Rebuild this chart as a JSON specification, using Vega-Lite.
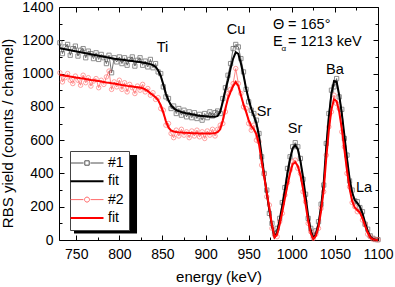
{
  "$schema": "https://vega.github.io/schema/vega-lite/v6.json",
  "width": 319,
  "height": 233,
  "autosize": {"type": "none"},
  "padding": {"left": 59, "top": 7, "right": 17, "bottom": 47},
  "config": {
    "view": {"stroke": "#000", "strokeWidth": 1},
    "font": "Liberation Sans",
    "axis": {"domain": false, "grid": false, "tickColor": "#000", "tickWidth": 1, "labelColor": "#000", "labelFont": "Liberation Sans", "titleFont": "Liberation Sans", "labelFlush": false, "labelOverlap": false, "labelFontSize": 14, "format": "d"}
  },
  "datasets": {
    "spec": [
      {"E":731,"s1":1185,"f1":1152,"s2":1005,"f2":992},
      {"E":734,"s1":1120,"f1":1149,"s2":950,"f2":990},
      {"E":737,"s1":1160,"f1":1146,"s2":975,"f2":987},
      {"E":740,"s1":1175,"f1":1143,"s2":1000,"f2":985},
      {"E":743,"s1":1110,"f1":1140,"s2":960,"f2":982},
      {"E":746,"s1":1150,"f1":1137,"s2":940,"f2":980},
      {"E":749,"s1":1165,"f1":1134,"s2":985,"f2":977},
      {"E":752,"s1":1105,"f1":1131,"s2":960,"f2":975},
      {"E":755,"s1":1140,"f1":1128,"s2":930,"f2":972},
      {"E":758,"s1":1150,"f1":1125,"s2":990,"f2":970},
      {"E":761,"s1":1095,"f1":1122,"s2":945,"f2":967},
      {"E":764,"s1":1135,"f1":1119,"s2":975,"f2":965},
      {"E":767,"s1":1120,"f1":1116,"s2":925,"f2":962},
      {"E":770,"s1":1090,"f1":1113,"s2":955,"f2":960},
      {"E":773,"s1":1125,"f1":1110,"s2":970,"f2":957},
      {"E":776,"s1":1085,"f1":1107,"s2":915,"f2":955},
      {"E":779,"s1":1115,"f1":1104,"s2":960,"f2":952},
      {"E":782,"s1":1095,"f1":1101,"s2":935,"f2":950},
      {"E":785,"s1":1060,"f1":1098,"s2":980,"f2":947},
      {"E":788,"s1":1110,"f1":1095,"s2":1015,"f2":945},
      {"E":791,"s1":1005,"f1":1092,"s2":905,"f2":942},
      {"E":794,"s1":1095,"f1":1089,"s2":950,"f2":940},
      {"E":797,"s1":1070,"f1":1087,"s2":920,"f2":937},
      {"E":800,"s1":1100,"f1":1085,"s2":960,"f2":934},
      {"E":803,"s1":1060,"f1":1083,"s2":905,"f2":931},
      {"E":806,"s1":1095,"f1":1081,"s2":945,"f2":929},
      {"E":809,"s1":1050,"f1":1079,"s2":890,"f2":926},
      {"E":812,"s1":1085,"f1":1077,"s2":935,"f2":924},
      {"E":815,"s1":1100,"f1":1075,"s2":915,"f2":922},
      {"E":818,"s1":1045,"f1":1073,"s2":880,"f2":920},
      {"E":821,"s1":1080,"f1":1071,"s2":925,"f2":918},
      {"E":824,"s1":1095,"f1":1069,"s2":900,"f2":916},
      {"E":827,"s1":1050,"f1":1067,"s2":935,"f2":912},
      {"E":830,"s1":1075,"f1":1064,"s2":890,"f2":905},
      {"E":833,"s1":1040,"f1":1061,"s2":910,"f2":895},
      {"E":836,"s1":1085,"f1":1057,"s2":870,"f2":882},
      {"E":839,"s1":1035,"f1":1051,"s2":885,"f2":870},
      {"E":842,"s1":1060,"f1":1040,"s2":845,"f2":858},
      {"E":845,"s1":1010,"f1":1020,"s2":855,"f2":840},
      {"E":848,"s1":1000,"f1":985,"s2":790,"f2":810},
      {"E":851,"s1":920,"f1":935,"s2":780,"f2":765},
      {"E":854,"s1":860,"f1":880,"s2":690,"f2":715},
      {"E":857,"s1":850,"f1":838,"s2":700,"f2":675},
      {"E":860,"s1":790,"f1":810,"s2":640,"f2":658},
      {"E":863,"s1":805,"f1":792,"s2":615,"f2":652},
      {"E":866,"s1":760,"f1":781,"s2":660,"f2":649},
      {"E":869,"s1":790,"f1":774,"s2":625,"f2":647},
      {"E":872,"s1":750,"f1":769,"s2":665,"f2":646},
      {"E":875,"s1":780,"f1":765,"s2":630,"f2":645},
      {"E":878,"s1":740,"f1":761,"s2":650,"f2":644},
      {"E":881,"s1":770,"f1":758,"s2":615,"f2":643},
      {"E":884,"s1":735,"f1":755,"s2":655,"f2":642},
      {"E":887,"s1":765,"f1":752,"s2":625,"f2":641},
      {"E":890,"s1":730,"f1":749,"s2":660,"f2":641},
      {"E":893,"s1":755,"f1":747,"s2":620,"f2":640},
      {"E":896,"s1":720,"f1":745,"s2":650,"f2":640},
      {"E":899,"s1":760,"f1":743,"s2":610,"f2":640},
      {"E":902,"s1":735,"f1":742,"s2":655,"f2":640},
      {"E":905,"s1":770,"f1":741,"s2":630,"f2":640},
      {"E":908,"s1":745,"f1":740,"s2":665,"f2":641},
      {"E":911,"s1":765,"f1":740,"s2":625,"f2":643},
      {"E":914,"s1":775,"f1":745,"s2":665,"f2":648},
      {"E":917,"s1":760,"f1":770,"s2":690,"f2":665},
      {"E":920,"s1":850,"f1":830,"s2":700,"f2":720},
      {"E":923,"s1":915,"f1":900,"s2":770,"f2":790},
      {"E":926,"s1":990,"f1":960,"s2":880,"f2":850},
      {"E":929,"s1":1060,"f1":1030,"s2":905,"f2":890},
      {"E":932,"s1":1150,"f1":1090,"s2":940,"f2":925},
      {"E":935,"s1":1175,"f1":1128,"s2":1030,"f2":950},
      {"E":938,"s1":1160,"f1":1118,"s2":940,"f2":925},
      {"E":941,"s1":1090,"f1":1060,"s2":880,"f2":870},
      {"E":944,"s1":1010,"f1":990,"s2":800,"f2":815},
      {"E":947,"s1":905,"f1":910,"s2":790,"f2":770},
      {"E":950,"s1":830,"f1":845,"s2":700,"f2":720},
      {"E":953,"s1":780,"f1":790,"s2":660,"f2":685},
      {"E":956,"s1":760,"f1":745,"s2":690,"f2":665},
      {"E":959,"s1":720,"f1":700,"s2":600,"f2":635},
      {"E":962,"s1":640,"f1":625,"s2":590,"f2":575},
      {"E":965,"s1":500,"f1":510,"s2":450,"f2":475},
      {"E":968,"s1":400,"f1":390,"s2":395,"f2":380},
      {"E":971,"s1":300,"f1":280,"s2":260,"f2":285},
      {"E":974,"s1":160,"f1":180,"s2":210,"f2":190},
      {"E":977,"s1":100,"f1":85,"s2":70,"f2":90},
      {"E":980,"s1":40,"f1":20,"s2":30,"f2":15},
      {"E":983,"s1":70,"f1":45,"s2":20,"f2":35},
      {"E":986,"s1":130,"f1":120,"s2":110,"f2":95},
      {"E":989,"s1":225,"f1":205,"s2":160,"f2":170},
      {"E":992,"s1":315,"f1":300,"s2":270,"f2":250},
      {"E":995,"s1":430,"f1":400,"s2":345,"f2":330},
      {"E":998,"s1":500,"f1":485,"s2":420,"f2":400},
      {"E":1001,"s1":560,"f1":550,"s2":470,"f2":455},
      {"E":1004,"s1":585,"f1":570,"s2":480,"f2":468},
      {"E":1007,"s1":560,"f1":545,"s2":430,"f2":445},
      {"E":1010,"s1":490,"f1":475,"s2":400,"f2":390},
      {"E":1013,"s1":365,"f1":380,"s2":290,"f2":310},
      {"E":1016,"s1":275,"f1":260,"s2":230,"f2":215},
      {"E":1019,"s1":130,"f1":145,"s2":100,"f2":115},
      {"E":1022,"s1":70,"f1":55,"s2":50,"f2":40},
      {"E":1025,"s1":25,"f1":10,"s2":10,"f2":5},
      {"E":1028,"s1":55,"f1":35,"s2":35,"f2":25},
      {"E":1031,"s1":110,"f1":95,"s2":70,"f2":80},
      {"E":1034,"s1":215,"f1":200,"s2":190,"f2":175},
      {"E":1037,"s1":330,"f1":340,"s2":290,"f2":300},
      {"E":1040,"s1":580,"f1":560,"s2":510,"f2":495},
      {"E":1043,"s1":760,"f1":740,"s2":680,"f2":660},
      {"E":1046,"s1":900,"f1":880,"s2":770,"f2":785},
      {"E":1049,"s1":920,"f1":955,"s2":870,"f2":845},
      {"E":1052,"s1":970,"f1":950,"s2":820,"f2":835},
      {"E":1055,"s1":860,"f1":870,"s2":790,"f2":770},
      {"E":1058,"s1":785,"f1":760,"s2":650,"f2":670},
      {"E":1061,"s1":610,"f1":630,"s2":560,"f2":545},
      {"E":1064,"s1":510,"f1":490,"s2":400,"f2":420},
      {"E":1067,"s1":355,"f1":370,"s2":320,"f2":310},
      {"E":1070,"s1":300,"f1":285,"s2":225,"f2":235},
      {"E":1073,"s1":235,"f1":240,"s2":200,"f2":195},
      {"E":1076,"s1":230,"f1":222,"s2":170,"f2":180},
      {"E":1079,"s1":195,"f1":200,"s2":175,"f2":165},
      {"E":1082,"s1":170,"f1":160,"s2":120,"f2":130},
      {"E":1085,"s1":95,"f1":105,"s2":95,"f2":85},
      {"E":1088,"s1":65,"f1":55,"s2":35,"f2":45},
      {"E":1091,"s1":25,"f1":20,"s2":20,"f2":15},
      {"E":1094,"s1":10,"f1":6,"s2":5,"f2":4},
      {"E":1097,"s1":3,"f1":2,"s2":3,"f2":1},
      {"E":1100,"s1":2,"f1":1,"s2":1,"f2":0}
    ],
    "elements": [
      {"E":850,"v":1154,"t":"Ti"},
      {"E":935.3,"v":1259,"t":"Cu"},
      {"E":967.8,"v":769,"t":"Sr"},
      {"E":1003.7,"v":667,"t":"Sr"},
      {"E":1050,"v":1022,"t":"Ba"},
      {"E":1083.7,"v":312,"t":"La"}
    ],
    "info": [
      {"E":978.2,"v":1292,"t":"Θ"},
      {"E":995.6,"v":1292,"t":"= 165°"},
      {"E":978.2,"v":1190,"t":"E"},
      {"E":995.6,"v":1190,"t":"= 1213 keV"}
    ],
    "sub": [
      {"E":988.2,"v":1146,"t":"α"}
    ]
  },
  "layer": [
    {
      "data": {"values": [{}]},
      "mark": {"type": "rect", "color": "#000"},
      "encoding": {
        "x": {"datum": 747.4, "type": "quantitative", "axis": null, "scale": {"domain": [730, 1100], "nice": false, "zero": false}},
        "x2": {"datum": 820.5},
        "y": {"datum": 510.8, "type": "quantitative", "axis": null, "scale": {"domain": [0, 1400], "nice": false}},
        "y2": {"datum": 39}
      }
    },
    {
      "data": {"name": "spec"},
      "transform": [{"fold": ["s1", "s2"], "as": ["series", "v"]}],
      "mark": {"type": "line", "strokeWidth": 0.8},
      "encoding": {
        "x": {"field": "E", "type": "quantitative", "scale": {"domain": [730, 1100], "nice": false, "zero": false},
              "axis": {"orient": "bottom", "values": [750, 800, 850, 900, 950, 1000, 1050, 1100], "ticks": false, "labelPadding": 7, "title": "energy (keV)", "titleFontSize": 15, "titleFontWeight": "normal", "titleColor": "#000", "titleY": 29}},
        "y": {"field": "v", "type": "quantitative", "scale": {"domain": [0, 1400], "nice": false},
              "axis": {"orient": "left", "values": [0, 200, 400, 600, 800, 1000, 1200, 1400], "ticks": false, "labelPadding": 6, "title": "RBS yield (counts / channel)", "titleFontSize": 15, "titleFontWeight": "normal", "titleColor": "#000", "titleX": -44, "titleY": 126}},
        "color": {"field": "series", "type": "nominal",
                  "scale": {"domain": ["s1", "f1", "s2", "f2"], "range": ["#505050", "#000000", "#ff6a6a", "#ff0000"]},
                  "legend": {"orient": "none", "legendX": 11, "legendY": 144, "title": null, "direction": "vertical",
                             "labelExpr": "datum.value == 's1' ? '#1' : datum.value == 's2' ? '#2' : 'fit'",
                             "symbolType": {"expr": "datum.value == 's1' ? 'M-8.25,0H-1.7M1.7,0H8.25M-1.1,-1.1H1.1V1.1H-1.1Z' : datum.value == 's2' ? 'M-8.25,0H-1.8M1.8,0H8.25M-1.25,0A1.25,1.25 0 1,1 1.25,0A1.25,1.25 0 1,1 -1.25,0Z' : 'M-8.25,0H8.25'"},
                             "symbolStrokeWidth": {"expr": "datum.value == 's1' || datum.value == 's2' ? 1 : 2"},
                             "symbolSize": 16, "symbolFillColor": "transparent", "symbolOffset": 5, "rowPadding": 4.3,
                             "labelFontSize": 14, "labelColor": "#000", "labelFont": "Liberation Sans", "labelOffset": 14,
                             "padding": 5, "strokeColor": "#444", "fillColor": "#fff"}}
      }
    },
    {
      "data": {"name": "spec"},
      "mark": {"type": "point", "shape": "square", "filled": false, "size": 18, "color": "#505050", "strokeWidth": 0.9},
      "encoding": {
        "x": {"field": "E", "type": "quantitative", "axis": {"orient": "bottom", "values": [750, 800, 850, 900, 950, 1000, 1050, 1100], "labels": false, "tickSize": -5, "title": null}},
        "y": {"field": "s1", "type": "quantitative", "axis": {"orient": "left", "values": [0, 200, 400, 600, 800, 1000, 1200, 1400], "labels": false, "tickSize": -5, "title": null}}
      }
    },
    {
      "data": {"name": "spec"},
      "mark": {"type": "point", "shape": "circle", "filled": false, "size": 20, "color": "#ff6a6a", "strokeWidth": 0.9},
      "encoding": {
        "x": {"field": "E", "type": "quantitative", "axis": {"orient": "top", "values": [750, 800, 850, 900, 950, 1000, 1050, 1100], "labels": false, "tickSize": -5, "title": null}},
        "y": {"field": "s2", "type": "quantitative", "axis": {"orient": "right", "values": [0, 200, 400, 600, 800, 1000, 1200, 1400], "labels": false, "tickSize": -5, "title": null}}
      }
    },
    {
      "data": {"name": "spec"},
      "transform": [{"fold": ["f1", "f2"], "as": ["series", "v"]}],
      "mark": {"type": "line", "strokeWidth": 2},
      "encoding": {
        "x": {"field": "E", "type": "quantitative", "axis": {"orient": "bottom", "values": [775, 825, 875, 925, 975, 1025, 1075], "labels": false, "tickSize": -3, "title": null}},
        "y": {"field": "v", "type": "quantitative", "axis": {"orient": "left", "values": [100, 300, 500, 700, 900, 1100, 1300], "labels": false, "tickSize": -3, "title": null}},
        "color": {"field": "series", "type": "nominal"}
      }
    },
    {
      "data": {"name": "elements"},
      "mark": {"type": "text", "fontSize": 14.5, "font": "Liberation Sans", "align": "center", "baseline": "middle", "color": "#000"},
      "encoding": {
        "x": {"field": "E", "type": "quantitative", "axis": {"orient": "top", "values": [775, 825, 875, 925, 975, 1025, 1075], "labels": false, "tickSize": -3, "title": null}},
        "y": {"field": "v", "type": "quantitative", "axis": {"orient": "right", "values": [100, 300, 500, 700, 900, 1100, 1300], "labels": false, "tickSize": -3, "title": null}},
        "text": {"field": "t"}
      }
    },
    {
      "data": {"name": "info"},
      "mark": {"type": "text", "fontSize": 14.5, "font": "Liberation Sans", "align": "left", "baseline": "middle", "color": "#000"},
      "encoding": {
        "x": {"field": "E", "type": "quantitative", "axis": null},
        "y": {"field": "v", "type": "quantitative", "axis": null},
        "text": {"field": "t"}
      }
    },
    {
      "data": {"name": "sub"},
      "mark": {"type": "text", "fontSize": 8, "font": "Liberation Sans", "align": "left", "baseline": "middle", "color": "#000"},
      "encoding": {
        "x": {"field": "E", "type": "quantitative", "axis": null},
        "y": {"field": "v", "type": "quantitative", "axis": null},
        "text": {"field": "t"}
      }
    }
  ],
  "resolve": {"axis": {"x": "independent", "y": "independent"}}
}
